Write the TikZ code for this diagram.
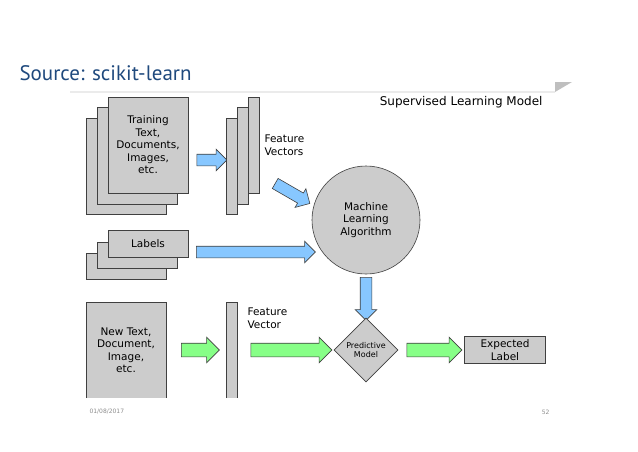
\documentclass[tikz,border=0pt]{standalone}
\usepackage{fontspec}
\setmainfont{DejaVu Sans}
\newfontfamily\titlefont{PT Sans}
\usetikzlibrary{shapes.geometric,shapes.arrows}
\definecolor{boxgray}{RGB}{204,204,204}
\definecolor{blueA}{RGB}{135,199,255}
\definecolor{greenA}{RGB}{135,255,135}
\definecolor{titleblue}{RGB}{31,73,125}
\begin{document}
\begin{tikzpicture}[x=1pt,y=-1pt,
  box/.style={draw=black!75, fill=boxgray, line width=0.6pt},
  lbl/.style={font=\fontsize{10.5}{12.5}\selectfont, align=center},
  arr/.style={single arrow, draw=black!75, line width=0.6pt, inner xsep=0pt,
    text height=0pt, text depth=0pt, single arrow tip angle=90, minimum height=#1},
  blue arr/.style={arr=#1, fill=blueA, inner ysep=5.5pt, single arrow head extend=5pt},
  green arr/.style={arr=#1, fill=greenA, inner ysep=6.5pt, single arrow head extend=6pt}]
\useasboundingbox (0,0) rectangle (638,451);
% header
\node[anchor=west, text=titleblue, font=\titlefont\fontsize{21}{24}\selectfont] (title) at (16,73) {Source: scikit-learn};
\draw[black!8, line width=2pt] (70,92) -- (555,92);
\fill[black!25] (555,82) -- (572,82) -- (555,92) -- cycle;
\node[anchor=east, font=\fontsize{12}{14}\selectfont] (sup) at (546,102) {Supervised Learning Model};
% training documents
\draw[box] (86,118) rectangle (166,214);
\draw[box] (97,107) rectangle (177,204);
\node[box, minimum width=80pt, minimum height=96pt, lbl] (train) at (148,145) {Training\\Text,\\Documents,\\Images,\\etc.};
\node[blue arr=30pt] (a1) at (209,160) {};
% feature vectors
\draw[box] (226,118) rectangle (237,214);
\draw[box] (237,107) rectangle (248,204);
\draw[box] (248,97) rectangle (259,193);
\node[lbl, anchor=west, align=left] (fv) at (261,145) {Feature\\Vectors};
\node[blue arr=40pt, rotate=-30] (a2) at (290,192) {};
% algorithm
\node[box, circle, minimum size=108pt, lbl] (ml) at (366,220) {Machine\\Learning\\Algorithm};
% labels
\draw[box] (86,253) rectangle (166,279);
\draw[box] (97,242) rectangle (177,268);
\node[box, minimum width=80pt, minimum height=27pt, lbl] (labels) at (148,244) {Labels};
\node[blue arr=119pt] (a3) at (253,252) {};
\node[blue arr=43pt, rotate=-90] (a4) at (366,296) {};
% prediction row
\draw[box] (86,398) -- (86,302) -- (166,302) -- (166,398);
\node[lbl] (new) at (126,350) {New Text,\\Document,\\Image,\\etc.};
\node[green arr=38pt] (g1) at (197,350) {};
\draw[box] (226,398) -- (226,302) -- (237,302) -- (237,398);
\node[lbl, anchor=west, align=left] (fv2) at (244,318) {Feature\\Vector};
\node[green arr=81pt] (g2) at (288,350) {};
\node[box, diamond, minimum size=64pt, inner sep=0pt, align=center, font=\fontsize{8}{9.5}\selectfont] (pm) at (366,350) {Predictive\\Model};
\node[green arr=55pt] (g3) at (431,350) {};
\node[box, minimum width=81pt, minimum height=26pt, lbl] (exp) at (505,350) {Expected\\Label};
% footer
\node[anchor=west, text=black!45, font=\fontsize{6}{7}\selectfont] (date) at (86,412) {01/08/2017};
\node[anchor=east, text=black!45, font=\fontsize{6}{7}\selectfont] (page) at (553,412) {52};
\end{tikzpicture}
\end{document}
